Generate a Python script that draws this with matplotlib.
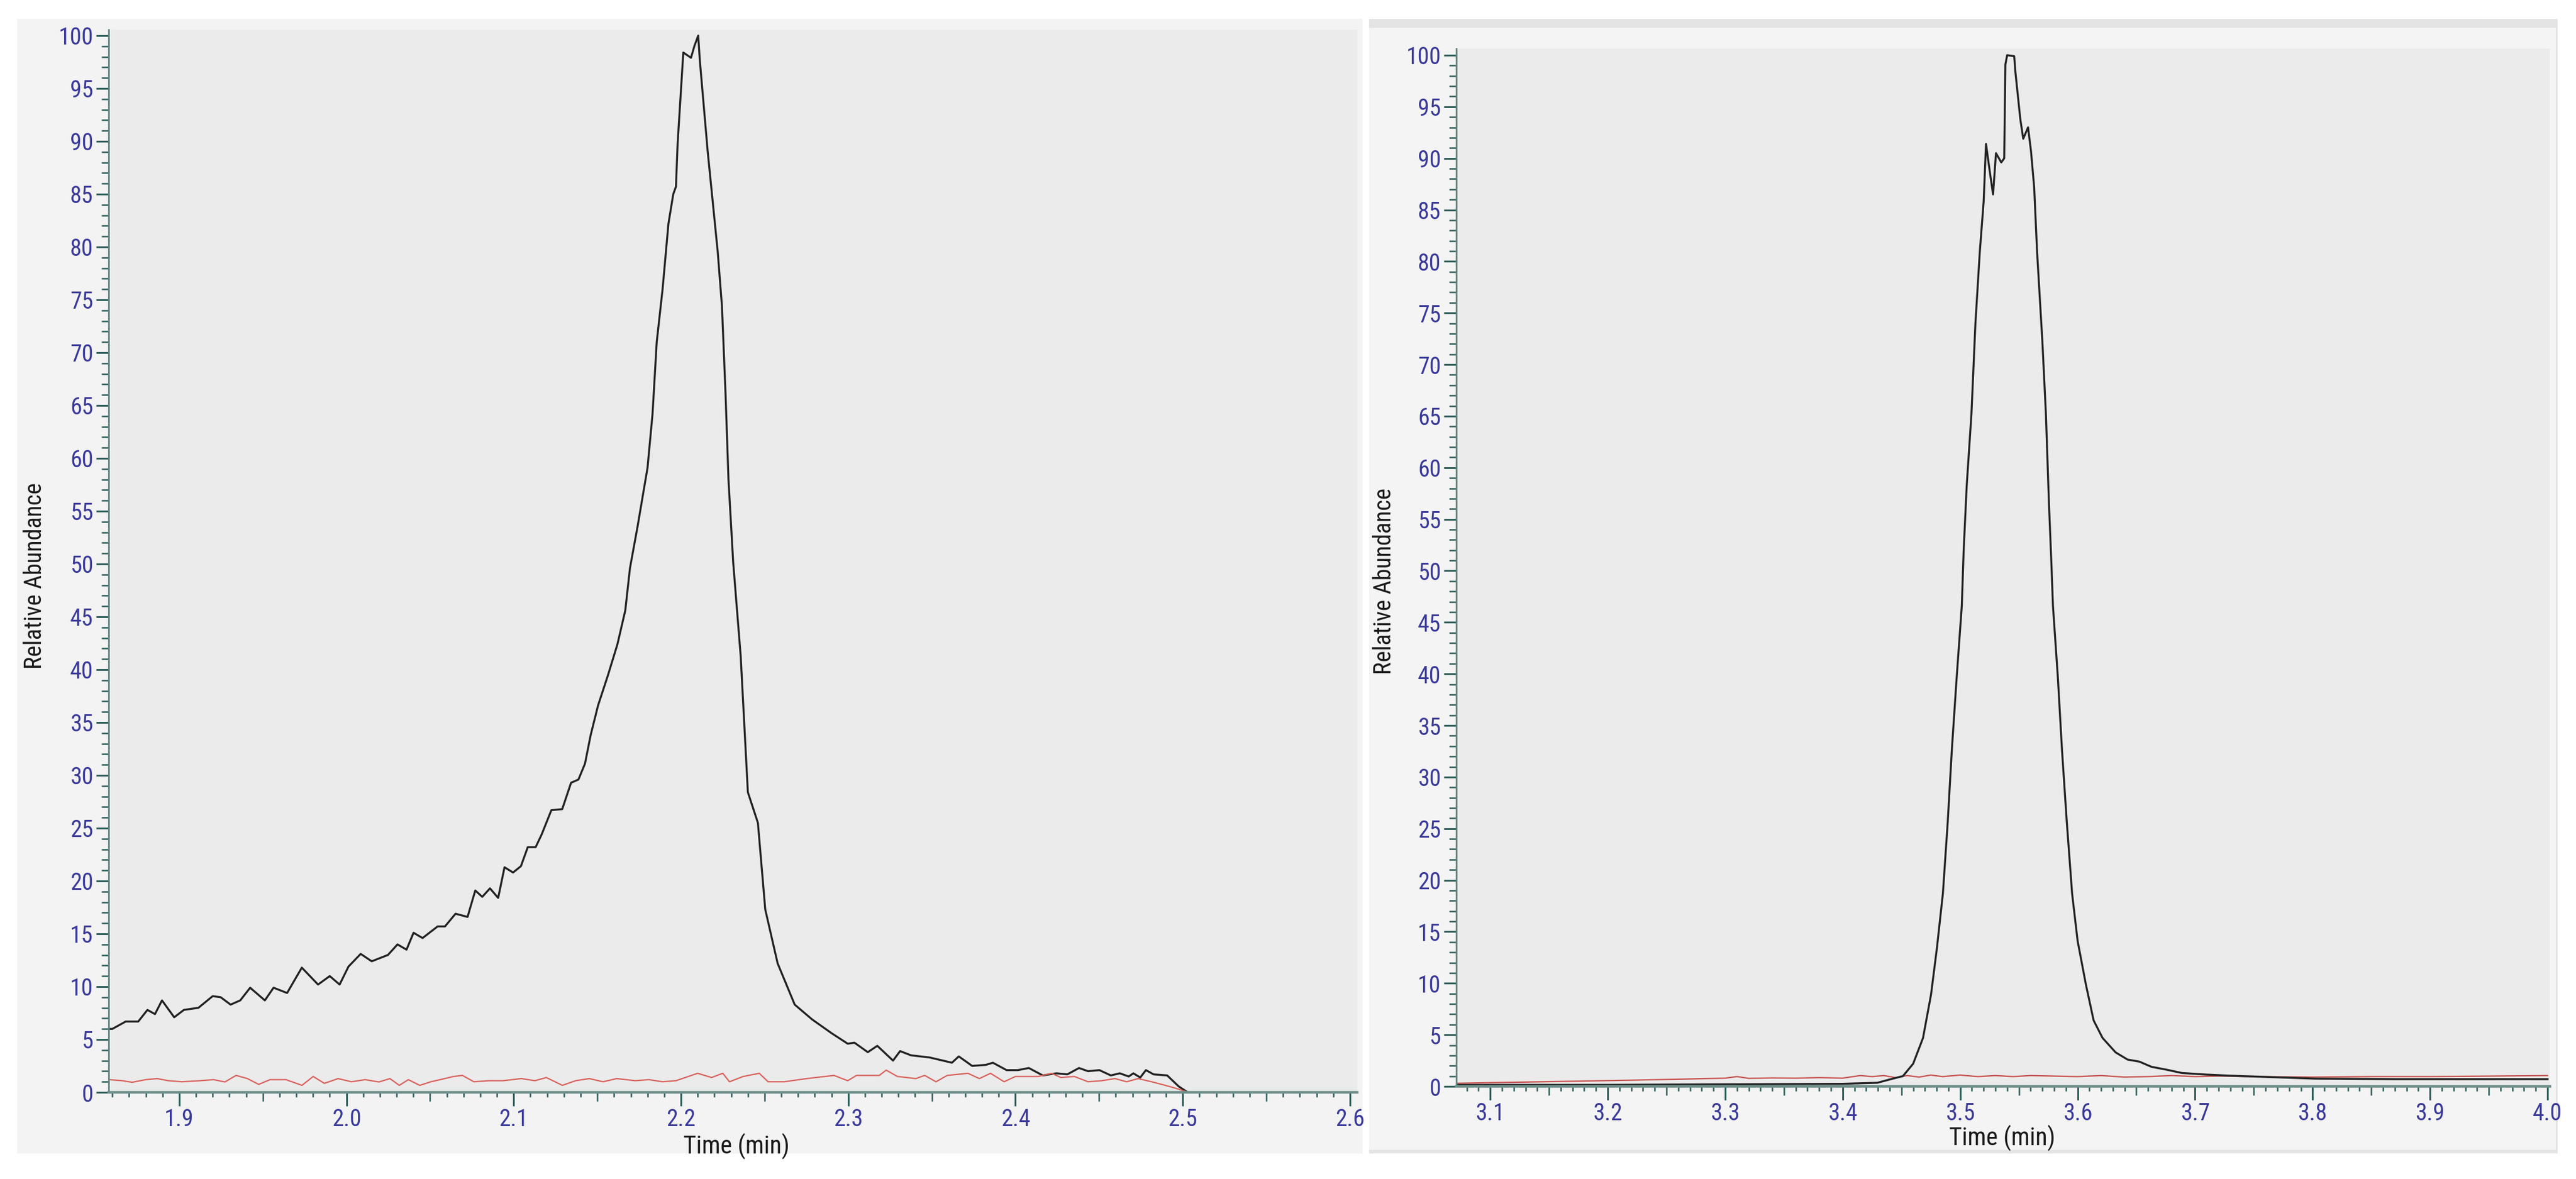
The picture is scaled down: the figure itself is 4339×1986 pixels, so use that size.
import matplotlib
matplotlib.use('Agg')
import matplotlib.pyplot as plt
from matplotlib import font_manager
from matplotlib.patches import Rectangle
from matplotlib.ticker import MultipleLocator, FormatStrFormatter

# narrow face if one is installed, otherwise condensed DejaVu / plain DejaVu
names = {f.name for f in font_manager.fontManager.ttflist}
narrow = [n for n in ('Liberation Sans Narrow', 'Arial Narrow', 'Roboto Condensed', 'Open Sans Condensed')
          if n in names]
plt.rcParams['font.family'] = narrow + ['DejaVu Sans']
plt.rcParams['font.stretch'] = 'condensed'

# Left chromatogram (time in min, relative abundance)
left_black_t = [1.8580, 1.8600, 1.8680, 1.8755, 1.8810, 1.8855, 1.8897, 1.8970, 1.9028, 1.9115,
                1.9200, 1.9248, 1.9307, 1.9365, 1.9424, 1.9512, 1.9564, 1.9645, 1.9733, 1.9830,
                1.9900, 1.9959, 2.0012, 2.0085, 2.0151, 2.0248, 2.0305, 2.0359, 2.0401, 2.0455,
                2.0545, 2.0589, 2.0652, 2.0724, 2.0770, 2.0812, 2.0858, 2.0907, 2.0945, 2.0996,
                2.1043, 2.1084, 2.1131, 2.1167, 2.1225, 2.1290, 2.1343, 2.1387, 2.1426, 2.1460,
                2.1504, 2.1564, 2.1620, 2.1667, 2.1695, 2.1740, 2.1800, 2.1830, 2.1855, 2.1890,
                2.1925, 2.1954, 2.1970, 2.1980, 2.2014, 2.2060, 2.2080, 2.2103, 2.2113, 2.2160,
                2.2220, 2.2245, 2.2267, 2.2284, 2.2312, 2.2357, 2.2400, 2.2460, 2.2504, 2.2578,
                2.2680, 2.2784, 2.2900, 2.2997, 2.3037, 2.3117, 2.3174, 2.3268, 2.3310, 2.3376,
                2.3486, 2.3567, 2.3620, 2.3661, 2.3741, 2.3823, 2.3865, 2.3947, 2.4014, 2.4080,
                2.4163, 2.4245, 2.4310, 2.4380, 2.4434, 2.4502, 2.4570, 2.4624, 2.4677, 2.4705,
                2.4746, 2.4780, 2.4826, 2.4907, 2.4976, 2.5030]
left_black_y = [6.0, 6.0, 6.7, 6.7, 7.8, 7.4, 8.7, 7.1, 7.8, 8.0,
                9.1, 9.0, 8.3, 8.7, 9.9, 8.7, 9.9, 9.4, 11.8, 10.2,
                11.0, 10.2, 11.9, 13.1, 12.4, 13.0, 14.0, 13.5, 15.1, 14.6,
                15.7, 15.7, 16.9, 16.6, 19.1, 18.5, 19.3, 18.4, 21.3, 20.8,
                21.4, 23.2, 23.2, 24.4, 26.7, 26.8, 29.3, 29.6, 31.1, 33.8,
                36.6, 39.5, 42.4, 45.6, 49.6, 53.5, 59.1, 64.2, 71.0, 76.0,
                82.2, 85.0, 85.7, 89.8, 98.4, 97.9, 99.0, 100.0, 97.6, 89.0,
                79.5, 74.4, 65.9, 58.0, 50.2, 41.3, 28.4, 25.5, 17.3, 12.2,
                8.3, 6.9, 5.6, 4.6, 4.7, 3.8, 4.4, 3.0, 3.9, 3.5,
                3.3, 3.0, 2.8, 3.4, 2.5, 2.6, 2.8, 2.1, 2.1, 2.3,
                1.6, 1.8, 1.7, 2.3, 2.0, 2.1, 1.6, 1.8, 1.5, 1.8,
                1.4, 2.1, 1.7, 1.6, 0.56, 0.0]

left_red_t = [1.8580, 1.8660, 1.8718, 1.8800, 1.8868, 1.8935, 1.9016, 1.9125, 1.9206, 1.9273,
              1.9340, 1.9408, 1.9475, 1.9543, 1.9638, 1.9734, 1.9801, 1.9868, 1.9950, 2.0030,
              2.0112, 2.0194, 2.0260, 2.0316, 2.0370, 2.0438, 2.0505, 2.0587, 2.0640, 2.0693,
              2.0762, 2.0855, 2.0936, 2.1046, 2.1127, 2.1195, 2.1291, 2.1370, 2.1452, 2.1534,
              2.1616, 2.1727, 2.1808, 2.1890, 2.1970, 2.2100, 2.2183, 2.2250, 2.2290, 2.2372,
              2.2468, 2.2521, 2.2617, 2.2752, 2.2915, 2.2997, 2.3050, 2.3186, 2.3227, 2.3294,
              2.3404, 2.3457, 2.3525, 2.3592, 2.3716, 2.3784, 2.3851, 2.3932, 2.4000, 2.4135,
              2.4216, 2.4271, 2.4352, 2.4434, 2.4515, 2.4595, 2.4665, 2.4733, 2.4814, 2.4896,
              2.4976, 2.5030]
left_red_y = [1.2, 1.1, 0.95, 1.2, 1.3, 1.1, 1.0, 1.1, 1.2, 0.98,
              1.6, 1.3, 0.75, 1.2, 1.2, 0.66, 1.5, 0.85, 1.3, 1.0,
              1.2, 0.98, 1.3, 0.66, 1.2, 0.66, 1.0, 1.3, 1.5, 1.6,
              1.0, 1.1, 1.1, 1.3, 1.1, 1.4, 0.66, 1.1, 1.3, 1.0,
              1.3, 1.1, 1.2, 1.0, 1.1, 1.8, 1.4, 1.8, 1.0, 1.5,
              1.8, 1.0, 1.0, 1.3, 1.6, 1.1, 1.6, 1.6, 2.1, 1.5,
              1.3, 1.6, 1.0, 1.6, 1.8, 1.3, 1.8, 1.0, 1.5, 1.5,
              1.8, 1.4, 1.5, 1.0, 1.1, 1.3, 1.0, 1.3, 1.0, 0.66,
              0.3, 0.0]

# Right chromatogram
right_black_t = [3.0711, 3.1000, 3.2000, 3.3000, 3.4000, 3.4295, 3.4410, 3.4513, 3.4600, 3.4684,
                 3.4752, 3.4802, 3.4853, 3.4894, 3.4929, 3.4970, 3.5014, 3.5030, 3.5056, 3.5096,
                 3.5130, 3.5167, 3.5200, 3.5220, 3.5250, 3.5280, 3.5305, 3.5350, 3.5375, 3.5385,
                 3.5400, 3.5460, 3.5470, 3.5512, 3.5537, 3.5578, 3.5603, 3.5630, 3.5655, 3.5700,
                 3.5730, 3.5756, 3.5776, 3.5790, 3.5832, 3.5867, 3.5908, 3.5953, 3.6000, 3.6070,
                 3.6136, 3.6212, 3.6323, 3.6425, 3.6526, 3.6628, 3.6765, 3.6887, 3.7090, 3.7293,
                 3.8027, 3.8700, 3.9370, 4.0000]
right_black_y = [0.15, 0.15, 0.15, 0.2, 0.25, 0.35, 0.7, 1.0, 2.2, 4.7,
                 8.9, 13.4, 18.7, 25.6, 32.6, 39.6, 46.6, 52.0, 58.3, 65.2,
                 74.0, 80.9, 85.8, 91.4, 88.9, 86.5, 90.5, 89.6, 90.0, 99.1,
                 100.0, 99.9, 98.4, 93.8, 91.9, 93.0, 90.7, 87.2, 80.9, 72.2,
                 65.2, 56.5, 50.9, 46.6, 39.6, 32.6, 25.6, 18.7, 14.1, 9.9,
                 6.4, 4.7, 3.3, 2.6, 2.4, 1.9, 1.6, 1.3, 1.15, 1.04,
                 0.75, 0.7, 0.7, 0.7]

right_red_t = [3.0711, 3.1200, 3.1700, 3.2200, 3.2700, 3.3000, 3.3100, 3.3200, 3.3400, 3.3600,
               3.3800, 3.4000, 3.4150, 3.4250, 3.4350, 3.4450, 3.4550, 3.4650, 3.4750, 3.4850,
               3.5000, 3.5150, 3.5300, 3.5450, 3.5600, 3.5800, 3.6000, 3.6200, 3.6400, 3.6600,
               3.6800, 3.7000, 3.7200, 3.7500, 3.8000, 3.8500, 3.9000, 3.9500, 4.0000]
right_red_y = [0.30, 0.40, 0.50, 0.60, 0.72, 0.80, 0.95, 0.78, 0.82, 0.80,
               0.85, 0.80, 1.05, 0.95, 1.05, 0.85, 1.05, 0.90, 1.10, 0.95,
               1.10, 0.95, 1.05, 0.95, 1.05, 1.00, 0.95, 1.05, 0.90, 0.95,
               1.05, 0.95, 1.00, 0.95, 0.90, 0.95, 0.95, 1.00, 1.05]

W, H = 4339, 1986
fig = plt.figure(figsize=(W / 100, H / 100), dpi=100)
fig.patch.set_facecolor('white')


def frac(x0, y0, x1, y1):
    # pixel box measured from the top-left corner -> figure fraction rect
    return [x0 / W, 1 - y1 / H, (x1 - x0) / W, (y1 - y0) / H]


def panel(x0, y0, x1, y1, color):
    l, b, w, h = frac(x0, y0, x1, y1)
    fig.add_artist(Rectangle((l, b), w, h, transform=fig.transFigure,
                             facecolor=color, edgecolor='none', zorder=0))


# window backgrounds
panel(29, 32, 2295, 1943, '#f3f3f3')
panel(2306, 32, 4308, 1943, '#e4e4e4')
panel(2306, 47, 4305, 1937, '#f4f4f4')

tick_col = '#2f5f5a'
lab_col = '#3a3a9a'


def style(ax, xlim, ylim):
    ax.set_facecolor('#ebebeb')
    ax.set_xlim(*xlim)
    ax.set_ylim(*ylim)
    ax.spines['top'].set_visible(False)
    ax.spines['right'].set_visible(False)
    ax.spines['left'].set_color('#5f817d')
    ax.spines['left'].set_linewidth(2)
    ax.spines['bottom'].set_color('#6e8f8b')
    ax.spines['bottom'].set_linewidth(3.2)
    ax.xaxis.set_major_locator(MultipleLocator(0.1))
    ax.xaxis.set_minor_locator(MultipleLocator(0.01))
    ax.xaxis.set_major_formatter(FormatStrFormatter('%.1f'))
    ax.yaxis.set_major_locator(MultipleLocator(5))
    ax.yaxis.set_minor_locator(MultipleLocator(1))
    ax.tick_params(axis='x', which='major', length=16.5, width=2.2, color=tick_col,
                   pad=2, labelsize=28.5, labelcolor=lab_col)
    ax.tick_params(axis='x', which='minor', length=6, width=1.8, color=tick_col)
    ax.tick_params(axis='y', which='major', length=15, width=2.2, color=tick_col,
                   pad=3.5, labelsize=28.5, labelcolor=lab_col)
    ax.tick_params(axis='y', which='minor', length=9, width=1.8, color=tick_col)
    # longer minor ticks at every 0.05 min
    locs = ax.xaxis.get_minorticklocs()
    ticks = ax.xaxis.get_minor_ticks(len(locs))
    for tk, loc in zip(ticks, locs):
        if round(loc * 100) % 5 == 0:
            tk.tick1line.set_markersize(11)
    ax.set_xlabel('Time (min)', fontsize=30, color='#1a1a1a')
    ax.set_ylabel('Relative Abundance', fontsize=29, color='#1a1a1a')
    ax.xaxis.label.set_va('center')
    ax.yaxis.label.set_va('center')


ax1 = fig.add_axes(frac(183, 50, 2286, 1840))
ax1.plot(left_black_t, left_black_y, color='#222222', lw=2.4)
ax1.plot(left_red_t, left_red_y, color='#d9605a', lw=1.6)
style(ax1, (1.8578, 2.6043), (0, 100.56))
ax1.xaxis.set_label_coords(0.503, -0.051)
ax1.yaxis.set_label_coords(-0.0594, 0.486)

ax2 = fig.add_axes(frac(2453, 82, 4295, 1830))
ax2.plot(right_red_t, right_red_y, color='#c8504c', lw=1.6)
ax2.plot(right_black_t, right_black_y, color='#222222', lw=2.4)
style(ax2, (3.0711, 4.002), (0, 100.63))
ax2.xaxis.set_label_coords(0.499, -0.05)
ax2.yaxis.set_label_coords(-0.0657, 0.487)

fig.savefig('out.png', dpi=100, facecolor='white')
